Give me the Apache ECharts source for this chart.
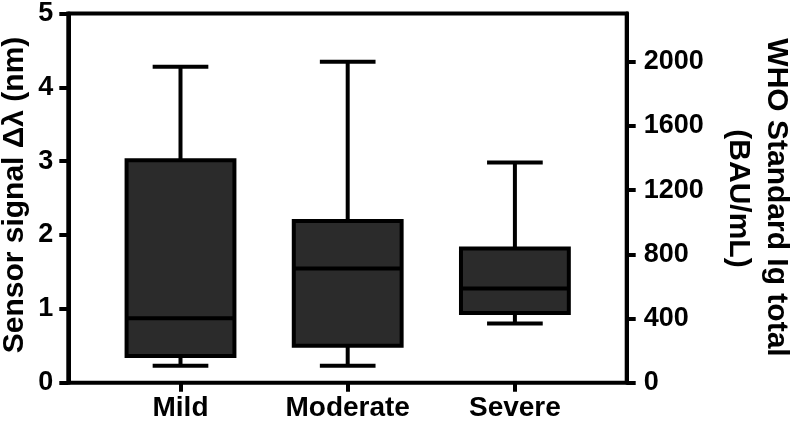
<!DOCTYPE html>
<html><head><meta charset="utf-8">
<script src="https://cdn.jsdelivr.net/npm/echarts@6/dist/echarts.min.js"></script>
<style>html,body{margin:0;padding:0;background:#fff}#c{width:790px;height:425px}</style>
</head><body><div id="c"></div>
<script>
const categories = ['Mild', 'Moderate', 'Severe'];
const whiskerLow = [0.23, 0.23, 0.80];
const q1 = [0.36, 0.50, 0.94];
const median = [0.87, 1.54, 1.27];
const q3 = [3.00, 2.18, 1.81];
const whiskerHigh = [4.26, 4.33, 2.97];
const leftTicks = [0, 1, 2, 3, 4, 5];
const rightTicks = [0, 400, 800, 1200, 1600, 2000];

const FONT = '"Liberation Sans", Arial, sans-serif';
const data = categories.map((c, i) => [i, whiskerLow[i], q1[i], median[i], q3[i], whiskerHigh[i]]);

const chart = echarts.init(document.getElementById('c'));
const lbl = {color: '#000', fontWeight: 'bold', fontSize: 27, fontFamily: FONT, formatter: v => String(v)};
const LW = 4;

chart.setOption({
  animation: false,
  backgroundColor: '#fff',
  grid: [
    {left: 68.3, right: 163.3, top: 12, bottom: 42.3, show: true, borderColor: '#000', borderWidth: LW, backgroundColor: 'transparent'},
    {left: 96.9, right: 191.5, top: 12, bottom: 42.3}
  ],
  xAxis: [
    {type: 'value', gridIndex: 0, min: 0, max: 1, show: false},
    {type: 'category', gridIndex: 1, data: categories,
     axisLine: {show: false},
     axisTick: {show: true, alignWithLabel: true, length: 9, lineStyle: {color: '#000', width: LW}},
     axisLabel: {margin: 12, color: '#000', fontWeight: 'bold', fontSize: 28, fontFamily: FONT}}
  ],
  yAxis: [
    {type: 'value', gridIndex: 0, position: 'left', min: 0, max: 5, interval: 1,
     axisLine: {show: true, lineStyle: {color: '#000', width: LW}},
     axisTick: {show: true, length: 9, lineStyle: {color: '#000', width: LW}},
     axisLabel: Object.assign({margin: 15}, lbl),
     splitLine: {show: false}},
    {type: 'value', gridIndex: 0, position: 'right', min: 0, max: 2300,
     axisLine: {show: true, lineStyle: {color: '#000', width: LW}},
     axisTick: {show: true, length: 9, customValues: rightTicks, lineStyle: {color: '#000', width: LW}},
     axisLabel: Object.assign({margin: 17, customValues: rightTicks}, lbl),
     splitLine: {show: false}},
    {type: 'value', gridIndex: 1, min: 0, max: 5, show: false}
  ],
  graphic: [
    {type: 'text', x: 15, y: 195, rotation: Math.PI / 2,
     style: {text: 'Sensor signal \u0394\u03bb (nm)', font: 'bold 30px ' + FONT, fill: '#000', textAlign: 'center', textVerticalAlign: 'middle'}},
    {type: 'text', x: 776, y: 197.5, rotation: -Math.PI / 2,
     style: {text: 'WHO Standard Ig total', font: 'bold 30px ' + FONT, fill: '#000', textAlign: 'center', textVerticalAlign: 'middle'}},
    {type: 'text', x: 738, y: 198.5, rotation: -Math.PI / 2,
     style: {text: '(BAU/mL)', font: 'bold 30px ' + FONT, fill: '#000', textAlign: 'center', textVerticalAlign: 'middle'}}
  ],
  series: [{
    type: 'custom',
    xAxisIndex: 1, yAxisIndex: 2,
    data: data,
    encode: {x: 0, y: [1, 2, 3, 4, 5]},
    renderItem: function (params, api) {
      const i = api.value(0);
      const pLo = api.coord([i, api.value(1)]);
      const pQ1 = api.coord([i, api.value(2)]);
      const pMed = api.coord([i, api.value(3)]);
      const pQ3 = api.coord([i, api.value(4)]);
      const pHi = api.coord([i, api.value(5)]);
      const band = api.size([1, 0])[0];
      const bw = band * 0.645, cw = band * 0.333;
      const x = pMed[0];
      const ls = {stroke: '#000', lineWidth: LW};
      return {type: 'group', children: [
        {type: 'line', shape: {x1: x, y1: pHi[1], x2: x, y2: pQ3[1]}, style: ls},
        {type: 'line', shape: {x1: x - cw / 2, y1: pHi[1], x2: x + cw / 2, y2: pHi[1]}, style: ls},
        {type: 'line', shape: {x1: x, y1: pLo[1], x2: x, y2: pQ1[1]}, style: ls},
        {type: 'line', shape: {x1: x - cw / 2, y1: pLo[1], x2: x + cw / 2, y2: pLo[1]}, style: ls},
        {type: 'rect', shape: {x: x - bw / 2, y: pQ3[1], width: bw, height: pQ1[1] - pQ3[1]}, style: {fill: '#2b2b2b', stroke: '#000', lineWidth: LW}},
        {type: 'line', shape: {x1: x - bw / 2, y1: pMed[1], x2: x + bw / 2, y2: pMed[1]}, style: ls}
      ]};
    }
  }]
});
</script></body></html>
